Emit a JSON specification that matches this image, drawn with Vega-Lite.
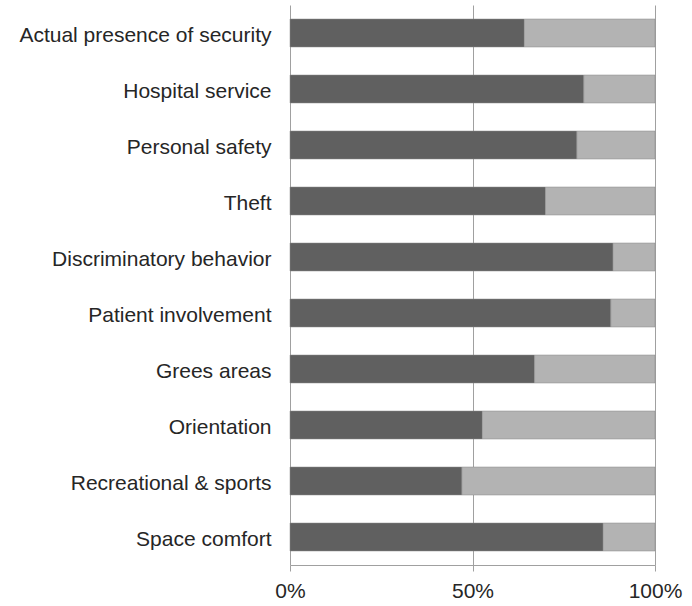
{
  "$schema": "https://vega.github.io/schema/vega-lite/v6.json",
  "width": 365,
  "height": 560,
  "autosize": {"type": "none"},
  "padding": {"left": 290, "top": 5, "right": 37, "bottom": 41},
  "background": "white",
  "config": {
    "view": {"stroke": null},
    "font": "Liberation Sans"
  },
  "data": {
    "values": [
      {"item": "Actual presence of security", "group": "a", "value": 0.642},
      {"item": "Actual presence of security", "group": "b", "value": 0.358},
      {"item": "Hospital service", "group": "a", "value": 0.805},
      {"item": "Hospital service", "group": "b", "value": 0.195},
      {"item": "Personal safety", "group": "a", "value": 0.786},
      {"item": "Personal safety", "group": "b", "value": 0.214},
      {"item": "Theft", "group": "a", "value": 0.700},
      {"item": "Theft", "group": "b", "value": 0.300},
      {"item": "Discriminatory behavior", "group": "a", "value": 0.885},
      {"item": "Discriminatory behavior", "group": "b", "value": 0.115},
      {"item": "Patient involvement", "group": "a", "value": 0.879},
      {"item": "Patient involvement", "group": "b", "value": 0.121},
      {"item": "Grees areas", "group": "a", "value": 0.670},
      {"item": "Grees areas", "group": "b", "value": 0.330},
      {"item": "Orientation", "group": "a", "value": 0.527},
      {"item": "Orientation", "group": "b", "value": 0.473},
      {"item": "Recreational & sports", "group": "a", "value": 0.471},
      {"item": "Recreational & sports", "group": "b", "value": 0.529},
      {"item": "Space comfort", "group": "a", "value": 0.858},
      {"item": "Space comfort", "group": "b", "value": 0.142}
    ]
  },
  "mark": {"type": "bar", "stroke": "#8a8a8a", "strokeWidth": 0.5},
  "encoding": {
    "y": {
      "field": "item",
      "type": "nominal",
      "sort": null,
      "scale": {"paddingInner": 0.5, "paddingOuter": 0.25},
      "axis": {
        "title": null,
        "ticks": false,
        "domain": false,
        "labelFontSize": 21,
        "labelColor": "#262626",
        "labelPadding": 19,
        "labelOffset": 3,
        "labelLimit": 300
      }
    },
    "x": {
      "field": "value",
      "type": "quantitative",
      "stack": "normalize",
      "scale": {"domain": [0, 1]},
      "axis": {
        "title": null,
        "values": [0, 0.5, 1],
        "format": ".0%",
        "grid": true,
        "gridColor": "#a0a0a0",
        "gridWidth": 1,
        "domainColor": "#a0a0a0",
        "tickColor": "#a0a0a0",
        "tickSize": 6,
        "labelFontSize": 21,
        "labelColor": "#262626",
        "labelPadding": 9,
        "labelFlush": false
      }
    },
    "color": {
      "field": "group",
      "type": "nominal",
      "scale": {"domain": ["a", "b"], "range": ["#606060", "#b3b3b3"]},
      "legend": null
    },
    "order": {"field": "group"}
  }
}
